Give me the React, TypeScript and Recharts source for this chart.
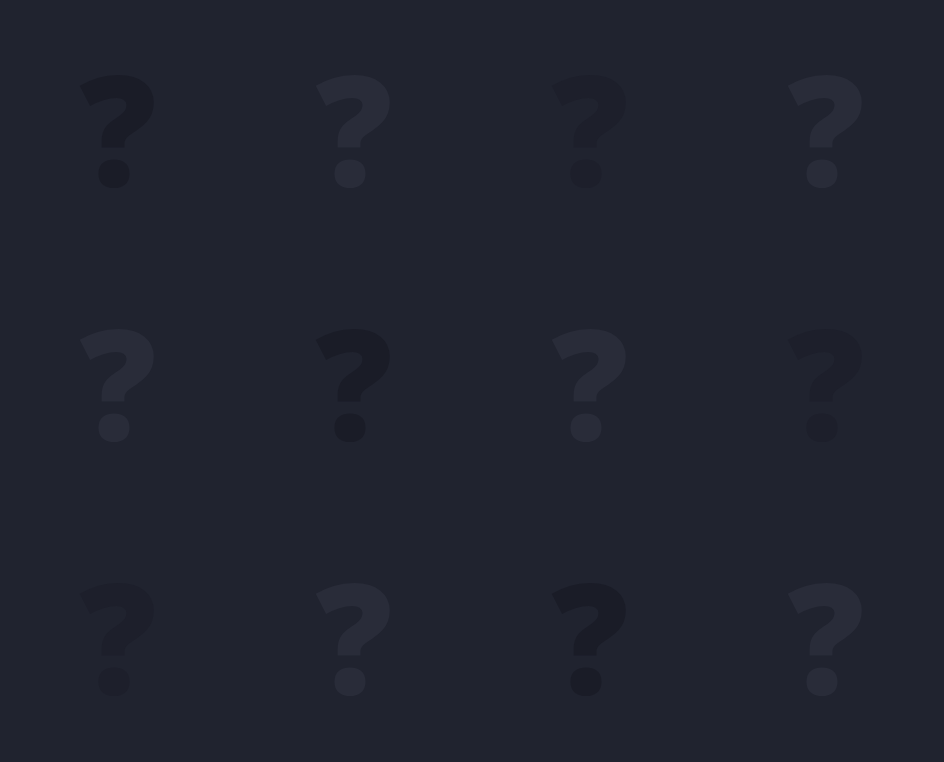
import React from "react";
import { ScatterChart, Scatter, XAxis, YAxis } from "recharts";

const columns = [0.5, 1.5, 2.5, 3.5];
const rows = [0.5, 1.5, 2.5];
const shades = [
  ["dark", "light", "mid", "light"],
  ["light", "dark", "light", "mid"],
  ["mid", "light", "dark", "light"],
];
const shadeColors: Record<string, string> = {
  dark: "#1a1c27",
  mid: "#1d1f2b",
  light: "#292c39",
};

const points = rows.flatMap((y, r) =>
  columns.map((x, c) => ({ x, y, shade: shades[r][c] }))
);

const Mark = (props: any) => {
  const { cx, cy, payload } = props;
  return (
    <text
      x={cx}
      y={cy + 59}
      textAnchor="middle"
      fontFamily="'Open Sans', sans-serif"
      fontWeight={800}
      fontSize={152}
      fill={shadeColors[payload.shade]}
    >
      ?
    </text>
  );
};

export default function App() {
  return (
    <div style={{ position: "absolute", left: 0, top: 0, width: 944, height: 762, background: "#20232f" }}>
      <ScatterChart width={944} height={762} margin={{ top: 0, right: 0, bottom: 0, left: 0 }}>
        <XAxis type="number" dataKey="x" domain={[0, 4]} hide />
        <YAxis type="number" dataKey="y" domain={[0, 3]} reversed hide />
        <Scatter data={points} shape={<Mark />} isAnimationActive={false} />
      </ScatterChart>
    </div>
  );
}
